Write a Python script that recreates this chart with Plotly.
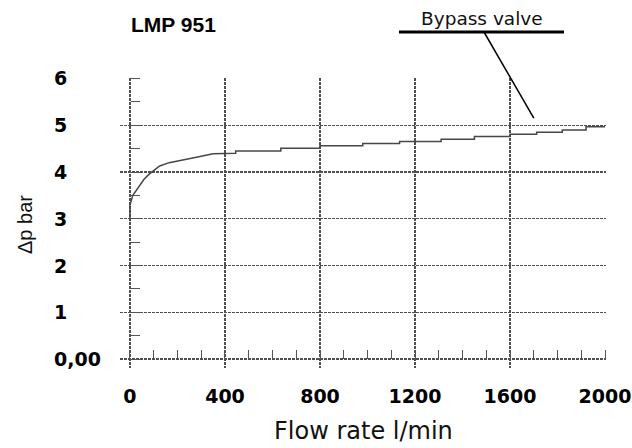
import plotly.graph_objects as go

# ---- data ----
flow = [0, 0, 12, 25, 40, 60, 82, 105, 125, 165, 210, 250, 295, 350, 445, 445,
        635, 635, 800, 800, 980, 980, 1135, 1135, 1310, 1310, 1450, 1450,
        1600, 1600, 1712, 1712, 1820, 1820, 1920, 1920, 2000]
dp = [2.95, 3.3, 3.5, 3.6, 3.72, 3.85, 3.96, 4.05, 4.13, 4.2, 4.24, 4.28, 4.33,
      4.39, 4.40, 4.45, 4.45, 4.51, 4.51, 4.56, 4.56, 4.61, 4.61, 4.65, 4.65,
      4.70, 4.70, 4.76, 4.76, 4.81, 4.81, 4.85, 4.85, 4.90, 4.90, 4.97, 4.97]

x_ticks = [0, 400, 800, 1200, 1600, 2000]
x_ticktext = ["0", "400", "800", "1200", "1600", "2000"]
y_ticks = [0, 1, 2, 3, 4, 5, 6]
y_ticktext = ["0,00", "1", "2", "3", "4", "5", "6"]

title_text = "LMP 951"
x_title = "Flow rate l/min"
y_title = "\u0394p bar"
callout_text = "Bypass valve"
callout_point = (1700, 5.15)

# ---- layout constants ----
W, H = 632, 448
ML, MR, MT, MB = 120, 26, 78, 80
x_range = [-42, 2004]
y_range = [-0.19, 6.01]
PW = W - ML - MR
PH = H - MT - MB

def px_x(p):
    return (p - ML) / PW

def px_y(p):
    return (H - MB - p) / PH

GRID = "#4f4f4f"
TICKC = "#555555"
GDASH = "3px,1px"

fig = go.Figure()
fig.add_trace(go.Scatter(x=flow, y=dp, mode="lines",
                         line=dict(color="#474747", width=1.5),
                         hoverinfo="skip", showlegend=False))

x0_pos = (0 - y_range[0]) / (y_range[1] - y_range[0])
y0_pos = (0 - x_range[0]) / (x_range[1] - x_range[0])

fig.update_layout(
    width=W, height=H,
    margin=dict(l=ML, r=MR, t=MT, b=MB, autoexpand=False),
    paper_bgcolor="white", plot_bgcolor="white",
    showlegend=False,
    xaxis=dict(range=x_range, tickvals=x_ticks, ticktext=x_ticktext,
               showgrid=True, gridcolor=GRID, gridwidth=1.4, griddash=GDASH,
               zeroline=False, showline=False, ticks="",
               anchor="free", position=x0_pos,
               ticklabelstandoff=24,
               tickfont=dict(family="DejaVu Sans", size=19, color="black", weight=700),
               minor=dict(dtick=100, tick0=0, ticks="inside", ticklen=9,
                          tickcolor=TICKC, tickwidth=1, showgrid=False),
               fixedrange=True, automargin=False),
    yaxis=dict(range=y_range, tickvals=y_ticks,
               showgrid=True, gridcolor=GRID, gridwidth=1.4, griddash=GDASH,
               zeroline=False, showline=False, ticks="", showticklabels=False,
               anchor="free", position=y0_pos,
               minor=dict(dtick=0.5, tick0=0, ticks="inside", ticklen=9,
                          tickcolor=TICKC, tickwidth=1, showgrid=False),
               fixedrange=True, automargin=False),
)

annotations = []
for v, t in zip(y_ticks, y_ticktext):
    annotations.append(dict(x=px_x(52), xref="paper", y=v, yref="y",
                            text=t, showarrow=False, xanchor="left", yanchor="middle",
                            font=dict(family="DejaVu Sans", size=19, color="black", weight=700)))

annotations.append(dict(x=px_x(129), y=px_y(24.5), xref="paper", yref="paper",
                        text=title_text, showarrow=False, xanchor="left", yanchor="middle",
                        font=dict(family="Liberation Sans", size=21, color="black", weight=700)))
annotations.append(dict(x=px_x(482), y=px_y(18.5), xref="paper", yref="paper",
                        text=callout_text, showarrow=False, xanchor="center", yanchor="middle",
                        font=dict(family="DejaVu Sans", size=18.5, color="#111")))
annotations.append(dict(x=0.5, y=px_y(431), xref="paper", yref="paper",
                        text=x_title, showarrow=False, xanchor="center", yanchor="middle",
                        font=dict(family="DejaVu Sans", size=24, color="#111")))
annotations.append(dict(x=px_x(25), y=px_y(225), xref="paper", yref="paper",
                        text=y_title, showarrow=False, textangle=-90,
                        xanchor="center", yanchor="middle",
                        font=dict(family="Liberation Sans", size=20, color="#111")))
fig.update_layout(annotations=annotations)

# callout underline and leader line
fig.add_shape(type="line", xref="paper", yref="paper",
              x0=px_x(399), x1=px_x(564), y0=px_y(32), y1=px_y(32),
              line=dict(color="black", width=3))
cx = (callout_point[0] - x_range[0]) / (x_range[1] - x_range[0])
cy = (callout_point[1] - y_range[0]) / (y_range[1] - y_range[0])
fig.add_shape(type="line", xref="paper", yref="paper",
              x0=px_x(484), y0=px_y(32), x1=cx, y1=cy,
              line=dict(color="black", width=1.5))

fig.write_html("out.html",
               config={"displayModeBar": False, "staticPlot": True},
               post_script="document.body.style.margin='0';document.body.style.overflow='hidden';")
